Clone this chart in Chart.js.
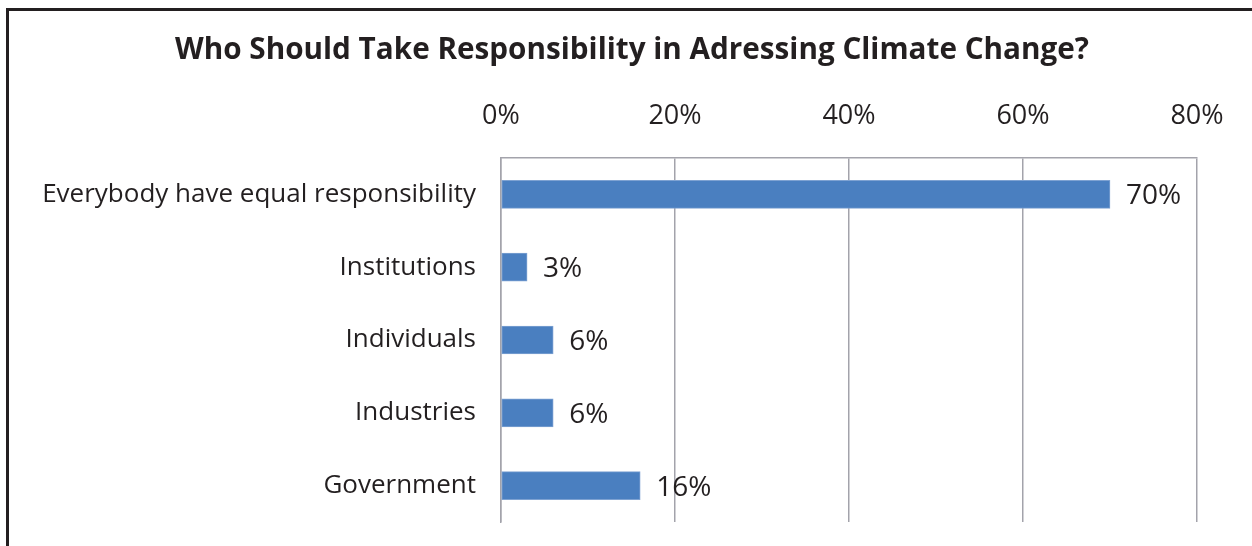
<!DOCTYPE html>
<html>
<head>
<meta charset="utf-8">
<script src="https://cdn.jsdelivr.net/npm/chart.js@4"></script>
<style>
  html, body { margin: 0; padding: 0; background: #fff; }
  #wrap { position: relative; width: 1252px; height: 546px; overflow: hidden; }
  #frame { position: absolute; left: 6px; top: 8px; width: 1300px; height: 600px;
           border-left: 3px solid #231f20; border-top: 3px solid #231f20; }
  canvas { position: absolute; left: 0; top: 0; }
</style>
</head>
<body>
<div id="wrap">
  <div id="frame"></div>
  <canvas id="chart" width="1252" height="546"></canvas>
</div>
<script>
const chartTitle = 'Who Should Take Responsibility in Adressing Climate Change?';
const categories = ['Everybody have equal responsibility', 'Institutions', 'Individuals', 'Industries', 'Government'];
const shares = [70, 3, 6, 6, 16];
const tickValues = [0, 20, 40, 60, 80];

const textColor = '#231f20';
const gridColor = '#a3a3ab';
const fontFamily = '"Open Sans", "DejaVu Sans", sans-serif';

// title sits centred on the whole frame, not on the plot
const frameTitle = {
  id: 'frameTitle',
  afterDraw(chart) {
    const ctx = chart.ctx;
    ctx.save();
    ctx.font = 'bold 29.7px ' + fontFamily;
    ctx.fillStyle = textColor;
    ctx.textAlign = 'center';
    ctx.textBaseline = 'middle';
    ctx.fillText(chartTitle, 632, 51);
    ctx.restore();
  }
};

// writes the percentage just past the end of each bar
const barValueLabels = {
  id: 'barValueLabels',
  afterDatasetsDraw(chart) {
    const ctx = chart.ctx;
    const meta = chart.getDatasetMeta(0);
    ctx.save();
    ctx.font = '28px ' + fontFamily;
    ctx.fillStyle = textColor;
    ctx.textAlign = 'left';
    ctx.textBaseline = 'middle';
    meta.data.forEach((bar, i) => {
      ctx.fillText(shares[i] + '%', bar.x + 16, bar.y + 2);
    });
    ctx.restore();
  }
};

new Chart(document.getElementById('chart').getContext('2d'), {
  type: 'bar',
  data: {
    labels: categories,
    datasets: [{
      data: shares,
      backgroundColor: '#4a7fc0',
      borderColor: '#7ea2d2',
      borderWidth: 1,
      borderSkipped: false,
      barThickness: 28
    }]
  },
  options: {
    indexAxis: 'y',
    responsive: false,
    animation: false,
    layout: { padding: { left: 0, right: 55, top: 78, bottom: 24 } },
    plugins: {
      legend: { display: false },
      tooltip: { enabled: false },
      title: { display: false }
    },
    scales: {
      x: {
        position: 'top',
        min: 0,
        max: 80,
        afterBuildTicks(scale) { scale.ticks = tickValues.map(v => ({ value: v })); },
        afterFit(scale) { scale.height = 80; scale.paddingLeft = 0; scale.paddingRight = 0; },
        ticks: {
          color: textColor,
          font: { family: fontFamily, size: 27 },
          padding: 25,
          callback: v => v + '%'
        },
        grid: { color: gridColor, lineWidth: 1.5, drawTicks: false },
        border: { display: true, color: gridColor, width: 1.5 }
      },
      y: {
        afterFit(scale) { scale.width = 501; scale.paddingTop = 0; scale.paddingBottom = 0; },
        ticks: {
          color: textColor,
          font: { family: fontFamily, size: 26 },
          padding: 25
        },
        grid: { display: false, drawTicks: false },
        border: { display: true, color: gridColor, width: 1.5 }
      }
    }
  },
  plugins: [barValueLabels, frameTitle]
});
</script>
</body>
</html>
